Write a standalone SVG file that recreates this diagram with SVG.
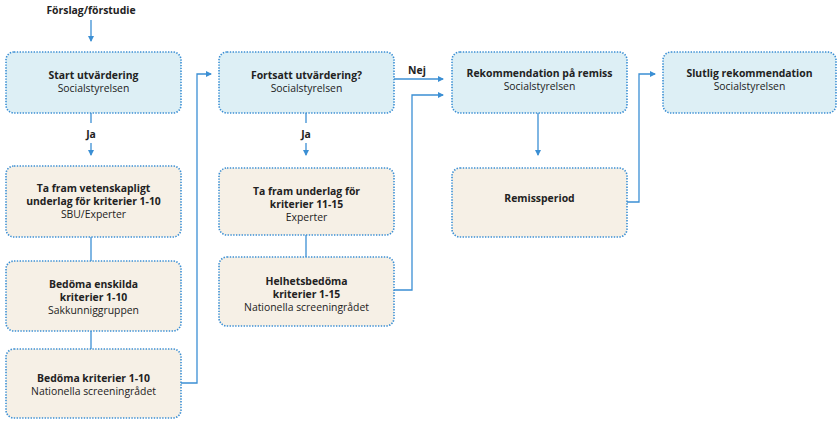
<svg xmlns="http://www.w3.org/2000/svg" width="838" height="425" viewBox="0 0 838 425">
<defs>
<marker id="ah" viewBox="0 0 6 6" refX="5" refY="3" markerWidth="6" markerHeight="6" markerUnits="userSpaceOnUse" orient="auto">
<path d="M0,0 L6,3 L0,6 z" fill="#3b8fd4"/>
</marker>
</defs>
<style>
.box rect{stroke:#3b8fd4;stroke-width:1.6;stroke-dasharray:1.4 1.4}
.blue rect{fill:#ddeff5}
.beige rect{fill:#f6f0e6}
text{font-family:"Open Sans","Noto Sans","Liberation Sans",sans-serif;font-size:10.4px;fill:#222;text-anchor:middle}
.b{font-weight:bold}
.conn path{fill:none;stroke:#3b8fd4;stroke-width:1.3}
</style>
<rect width="838" height="425" fill="#ffffff"/>
<g class="conn">
<path d="M91,20 V41" marker-end="url(#ah)"/>
<path d="M91,113 V123"/>
<path d="M91,143 V155" marker-end="url(#ah)"/>
<path d="M91,237 V261"/>
<path d="M91,331 V349"/>
<path d="M181,383 H197 V74 H211" marker-end="url(#ah)"/>
<path d="M306,113 V123"/>
<path d="M306,143 V155" marker-end="url(#ah)"/>
<path d="M306,235 V257"/>
<path d="M394,79 H443" marker-end="url(#ah)"/>
<path d="M394,290 H412 V95 H443" marker-end="url(#ah)"/>
<path d="M538,113 V155" marker-end="url(#ah)"/>
<path d="M627,202 H639 V74 H655" marker-end="url(#ah)"/>
</g>
<text class="b" x="91" y="14">Förslag/förstudie</text>
<text class="b" x="91" y="138">Ja</text>
<text class="b" x="306" y="138">Ja</text>
<text class="b" x="417" y="74">Nej</text>
<g id="start" class="box blue">
<rect x="6" y="52" width="175" height="61" rx="8"/>
<text class="b" x="93.5" y="79">Start utvärdering</text>
<text x="93.5" y="92">Socialstyrelsen</text>
</g>
<g id="vetenskapligt" class="box beige">
<rect x="6" y="166" width="175" height="71" rx="8"/>
<text class="b" x="93.5" y="192">Ta fram vetenskapligt</text>
<text class="b" x="93.5" y="205">underlag för kriterier 1-10</text>
<text x="93.5" y="218">SBU/Experter</text>
</g>
<g id="enskilda" class="box beige">
<rect x="6" y="261" width="175" height="70" rx="8"/>
<text class="b" x="93.5" y="288">Bedöma enskilda</text>
<text class="b" x="93.5" y="301">kriterier 1-10</text>
<text x="93.5" y="314">Sakkunniggruppen</text>
</g>
<g id="bedoma" class="box beige">
<rect x="6" y="349" width="175" height="69" rx="8"/>
<text class="b" x="93.5" y="382">Bedöma kriterier 1-10</text>
<text x="93.5" y="395">Nationella screeningrådet</text>
</g>
<g id="fortsatt" class="box blue">
<rect x="219" y="52" width="175" height="61" rx="8"/>
<text class="b" x="306.5" y="79">Fortsatt utvärdering?</text>
<text x="306.5" y="92">Socialstyrelsen</text>
</g>
<g id="underlag" class="box beige">
<rect x="219" y="168" width="175" height="67" rx="8"/>
<text class="b" x="306.5" y="195">Ta fram underlag för</text>
<text class="b" x="306.5" y="208">kriterier 11-15</text>
<text x="306.5" y="221">Experter</text>
</g>
<g id="helhet" class="box beige">
<rect x="219" y="257" width="175" height="69" rx="8"/>
<text class="b" x="306.5" y="285">Helhetsbedöma</text>
<text class="b" x="306.5" y="298">kriterier 1-15</text>
<text x="306.5" y="311">Nationella screeningrådet</text>
</g>
<g id="remiss" class="box blue">
<rect x="452" y="52" width="175" height="61" rx="8"/>
<text class="b" x="539.5" y="77">Rekommendation på remiss</text>
<text x="539.5" y="90">Socialstyrelsen</text>
</g>
<g id="remissperiod" class="box beige">
<rect x="452" y="168" width="175" height="69" rx="8"/>
<text class="b" x="539.5" y="202">Remissperiod</text>
</g>
<g id="slutlig" class="box blue">
<rect x="663" y="52" width="173" height="61" rx="8"/>
<text class="b" x="749.5" y="77">Slutlig rekommendation</text>
<text x="749.5" y="90">Socialstyrelsen</text>
</g>
</svg>
